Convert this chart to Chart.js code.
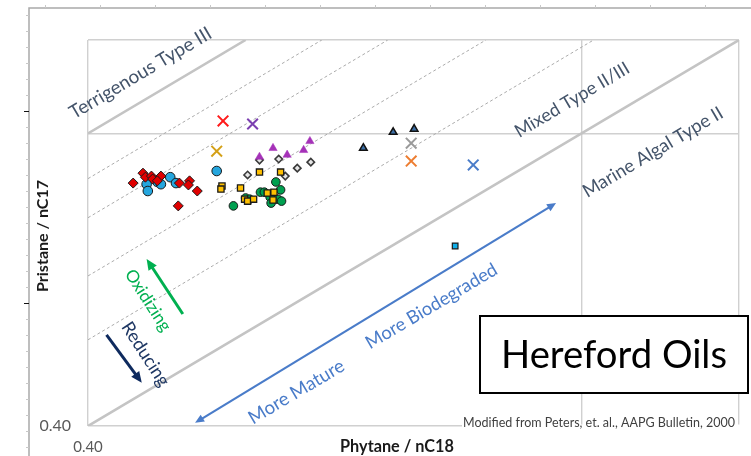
<!DOCTYPE html>
<html>
<head>
<meta charset="utf-8">
<script src="https://cdn.jsdelivr.net/npm/chart.js@4.4.1/dist/chart.umd.min.js"></script>
<style>
  html, body { margin: 0; padding: 0; background: #ffffff; }
  canvas { display: block; }
</style>
</head>
<body>
<canvas id="chart" width="751" height="456"></canvas>
<script>
// Shared range of both logarithmic axes
const axisMin = 0.4;
const axisMax = 1.34;
const gridValue = 1.0;

// Kerogen-type boundaries: Pr/nC17 = ratio x Ph/nC18
const typeLineRatios = [2.5, 1.0];
// Intermediate guide lines between the boundaries
const guideLineRatios = [2.17, 1.92, 1.6, 1.31];

// Oil samples — x: Phytane/nC18, y: Pristane/nC17
const redDiamondX = [0.435, 0.443, 0.445, 0.450, 0.451, 0.458, 0.455, 0.474, 0.483, 0.482, 0.490, 0.473];
const redDiamondY = [0.856, 0.883, 0.872, 0.875, 0.867, 0.875, 0.862, 0.856, 0.862, 0.851, 0.835, 0.797];

const blueCircleX = [0.446, 0.447, 0.455, 0.458, 0.466, 0.471, 0.508];
const blueCircleY = [0.853, 0.835, 0.859, 0.853, 0.872, 0.856, 0.889];

const yellowSquareX = [0.513, 0.512, 0.531, 0.550, 0.572, 0.565, 0.558, 0.535, 0.538, 0.544, 0.564];
const yellowSquareY = [0.848, 0.840, 0.843, 0.886, 0.886, 0.832, 0.830, 0.814, 0.809, 0.814, 0.812];

const greenCircleX = [0.567, 0.572, 0.551, 0.555, 0.536, 0.524, 0.561, 0.569, 0.573, 0.562, 0.540];
const greenCircleY = [0.859, 0.838, 0.832, 0.832, 0.817, 0.797, 0.819, 0.814, 0.809, 0.804, 0.814];

const grayDiamondX = [0.550, 0.570, 0.538, 0.577, 0.590, 0.605];
const grayDiamondY = [0.920, 0.923, 0.878, 0.875, 0.897, 0.914];

const purpleTriangleX = [0.550, 0.564, 0.579, 0.597, 0.604];
const purpleTriangleY = [0.929, 0.955, 0.935, 0.949, 0.976];

const darkTriangleX = [0.667, 0.705, 0.733];
const darkTriangleY = [0.955, 1.004, 1.014];

const blueSquareX = [0.791];
const blueSquareY = [0.703];

// Single reference oils plotted as crosses
const crossX = [0.514, 0.543, 0.508, 0.729, 0.729, 0.818];
const crossY = [1.040, 1.030, 0.946, 0.970, 0.917, 0.906];
const crossColors = ['#ff1a1a', '#7b3fb0', '#d4a017', '#9a9a9a', '#ed7d31', '#4a7cc9'];

const FONT = 'Lato, "Open Sans", "Noto Sans", sans-serif';

const pts = (xs, ys) => xs.map((v, i) => ({ x: v, y: ys[i] }));
const ratioLine = r => [{ x: axisMin, y: axisMin * r }, { x: axisMax / r, y: axisMax }];

const datasets = [];
datasets.push({ data: pts(redDiamondX, redDiamondY), pointStyle: 'rectRot', pointRadius: 5,
  backgroundColor: '#e00000', borderColor: '#1a1a1a', borderWidth: 1, order: 1 });
datasets.push({ data: pts(blueCircleX, blueCircleY), pointStyle: 'circle', pointRadius: 4.8,
  backgroundColor: '#25a6de', borderColor: '#1a1a1a', borderWidth: 1, order: 2 });
datasets.push({ data: pts(greenCircleX, greenCircleY), pointStyle: 'circle', pointRadius: 4.3,
  backgroundColor: '#00a050', borderColor: '#1a1a1a', borderWidth: 1, order: 2 });
datasets.push({ data: pts(yellowSquareX, yellowSquareY), pointStyle: 'rect', pointRadius: 4.4,
  backgroundColor: '#ffc000', borderColor: '#1a1a1a', borderWidth: 1.3, order: 1 });
datasets.push({ data: pts(grayDiamondX, grayDiamondY), pointStyle: 'rectRot', pointRadius: 3.7,
  backgroundColor: '#e6e6e6', borderColor: '#3a3a3a', borderWidth: 1.6, order: 2 });
datasets.push({ data: pts(purpleTriangleX, purpleTriangleY), pointStyle: 'triangle', pointRadius: 4.8,
  backgroundColor: '#a531b8', borderColor: '#a531b8', borderWidth: 0.5, order: 1 });
datasets.push({ data: pts(darkTriangleX, darkTriangleY), pointStyle: 'triangle', pointRadius: 4.4,
  backgroundColor: '#3b6ea5', borderColor: '#111111', borderWidth: 1.5, order: 1 });
datasets.push({ data: pts(blueSquareX, blueSquareY), pointStyle: 'rect', pointRadius: 4,
  backgroundColor: '#10aee8', borderColor: '#1a1a1a', borderWidth: 1.2, order: 1 });
crossX.forEach((v, i) => datasets.push({ data: [{ x: v, y: crossY[i] }], pointStyle: 'crossRot',
  pointRadius: 7.5, borderColor: crossColors[i], borderWidth: 2, backgroundColor: crossColors[i], order: 1 }));

typeLineRatios.forEach(r => datasets.push({ data: ratioLine(r), showLine: true, pointRadius: 0,
  borderColor: '#c4c4c4', borderWidth: 2.6, order: 10 }));
guideLineRatios.forEach(r => datasets.push({ data: ratioLine(r), showLine: true, pointRadius: 0,
  borderColor: '#ababab', borderWidth: 1, borderDash: [3, 2.5], order: 11 }));

// Text and arrows placed in data coordinates
const regionLabels = [
  { text: 'Terrigenous Type III', x: 0.441, y: 1.208, width: 162 },
  { text: 'Mixed Type II/III', x: 0.983, y: 1.111, width: 130 },
  { text: 'Marine Algal Type II', x: 1.142, y: 0.943, width: 160 }
];
const trendLabels = [
  { text: 'More Mature', x: 0.589, y: 0.445, width: 108 },
  { text: 'More Biodegraded', x: 0.757, y: 0.582, width: 150 }
];
const redoxLabels = [
  { text: 'Oxidizing', x: 0.447, y: 0.593, width: 70, color: '#00b050' },
  { text: 'Reducing', x: 0.445, y: 0.501, width: 73, color: '#1f3864' }
];
const arrows = [
  { from: [0.477, 0.568], to: [0.446, 0.675], color: '#00b050', width: 3, head: 11, both: false },
  { from: [0.414, 0.532], to: [0.442, 0.458], color: '#0e2a5e', width: 3, head: 11, both: false },
  { from: [0.954, 0.804], to: [0.488, 0.404], color: '#4a7cc9', width: 2.2, head: 9, both: true }
];

function fitFont(ctx, text, width, weight) {
  ctx.font = `${weight} 100px ${FONT}`;
  const w = ctx.measureText(text).width;
  return `${weight} ${(100 * width / w).toFixed(2)}px ${FONT}`;
}
function drawText(ctx, text, cx, cy, angle, width, color, weight) {
  ctx.save();
  ctx.translate(cx, cy);
  ctx.rotate(angle);
  ctx.font = fitFont(ctx, text, width, weight || 'normal');
  ctx.fillStyle = color;
  ctx.textAlign = 'center';
  ctx.textBaseline = 'middle';
  ctx.fillText(text, 0, 0);
  ctx.restore();
}
function head(ctx, x1, y1, x2, y2, size) {
  const a = Math.atan2(y2 - y1, x2 - x1);
  ctx.beginPath();
  ctx.moveTo(x2, y2);
  ctx.lineTo(x2 - size * Math.cos(a) + size * 0.45 * Math.sin(a), y2 - size * Math.sin(a) - size * 0.45 * Math.cos(a));
  ctx.lineTo(x2 - size * Math.cos(a) - size * 0.45 * Math.sin(a), y2 - size * Math.sin(a) + size * 0.45 * Math.cos(a));
  ctx.closePath();
  ctx.fill();
}
function drawArrow(ctx, x1, y1, x2, y2, color, lw, size, both) {
  const a = Math.atan2(y2 - y1, x2 - x1);
  const sx = both ? x1 + Math.cos(a) * size * 0.8 : x1;
  const sy = both ? y1 + Math.sin(a) * size * 0.8 : y1;
  ctx.save();
  ctx.strokeStyle = color; ctx.fillStyle = color; ctx.lineWidth = lw;
  ctx.beginPath();
  ctx.moveTo(sx, sy);
  ctx.lineTo(x2 - Math.cos(a) * size * 0.8, y2 - Math.sin(a) * size * 0.8);
  ctx.stroke();
  head(ctx, x1, y1, x2, y2, size);
  if (both) head(ctx, x2, y2, x1, y1, size);
  ctx.restore();
}

const decor = {
  id: 'decor',
  afterDraw(chart) {
    const { ctx, chartArea: ca, scales: { x, y } } = chart;
    const px = v => x.getPixelForValue(v);
    const py = v => y.getPixelForValue(v);
    const slope = Math.atan2(py(axisMax) - py(axisMin), px(axisMax) - px(axisMin));

    // outer frame with its tick marks
    ctx.save();
    ctx.strokeStyle = '#a9a9a9';
    ctx.lineWidth = 1.5;
    ctx.beginPath();
    ctx.moveTo(29, chart.height); ctx.lineTo(29, 8); ctx.lineTo(chart.width, 8);
    ctx.stroke();
    ctx.lineWidth = 1;
    for (let t = 15; t < chart.height; t += 16) {
      const major = (t === 111 || t === 303);
      ctx.strokeStyle = major ? '#111111' : '#c8c8c8';
      ctx.beginPath();
      ctx.moveTo(major ? 24 : 26, t + 0.5); ctx.lineTo(29, t + 0.5);
      ctx.stroke();
    }
    ctx.strokeStyle = '#c8c8c8';
    for (let t = 45; t < chart.width; t += 55) {
      ctx.beginPath();
      ctx.moveTo(t + 0.5, 5); ctx.lineTo(t + 0.5, 8);
      ctx.stroke();
    }
    ctx.restore();

    regionLabels.forEach(l => drawText(ctx, l.text, px(l.x), py(l.y), slope, l.width, '#44546a'));
    trendLabels.forEach(l => drawText(ctx, l.text, px(l.x), py(l.y), slope, l.width, '#4a7cc9'));
    redoxLabels.forEach(l => drawText(ctx, l.text, px(l.x), py(l.y), 57 * Math.PI / 180, l.width, l.color));
    arrows.forEach(a => drawArrow(ctx, px(a.from[0]), py(a.from[1]), px(a.to[0]), py(a.to[1]), a.color, a.width, a.head, a.both));

    // axis titles
    drawText(ctx, 'Phytane / nC18', 397, 447, 0, 114, '#1a1a1a', 'bold');
    drawText(ctx, 'Pristane / nC17', 43, 236, -Math.PI / 2, 112, '#1a1a1a', 'bold');

    // source note
    ctx.save();
    ctx.fillStyle = '#ffffff';
    ctx.fillRect(462, ca.bottom - 1.5, ca.right - 462 + 2, 3.5);
    ctx.restore();
    drawText(ctx, 'Modified from Peters, et. al., AAPG Bulletin, 2000', 599, 423, 0, 272, '#404040');

    // title box
    ctx.save();
    ctx.fillStyle = '#ffffff';
    ctx.fillRect(480, 316, 268, 77);
    ctx.strokeStyle = '#000000';
    ctx.lineWidth = 2;
    ctx.strokeRect(480, 316, 268, 77);
    ctx.restore();
    drawText(ctx, 'Hereford Oils', 614, 356, 0, 226, '#000000');
  }
};

const axisTicks = [axisMin, gridValue, axisMax];
function logAxis(extra) {
  return Object.assign({
    type: 'logarithmic',
    min: axisMin,
    max: axisMax,
    afterBuildTicks: s => { s.ticks = axisTicks.map(v => ({ value: v })); },
    grid: { color: '#d0d0d0', lineWidth: 1.4, drawTicks: false },
    border: { display: false }
  }, extra);
}

new Chart(document.getElementById('chart'), {
  type: 'scatter',
  data: { datasets },
  options: {
    responsive: false,
    animation: false,
    events: [],
    layout: { padding: { left: 0, right: 11, top: 40, bottom: 0 } },
    plugins: { legend: { display: false }, tooltip: { enabled: false } },
    scales: {
      x: logAxis({
        position: 'bottom',
        afterFit: s => { s.height = 30; },
        ticks: { autoSkip: false, maxRotation: 0, padding: 12, color: '#595959',
          font: { family: FONT, size: 15 },
          callback: v => (v === axisMin ? axisMin.toFixed(2) : '') }
      }),
      y: logAxis({
        position: 'left',
        afterFit: s => { s.width = 88; },
        ticks: { autoSkip: false, padding: 17, color: '#595959',
          font: { family: FONT, size: 16 },
          callback: v => (v === axisMin ? axisMin.toFixed(2) : '') }
      })
    }
  },
  plugins: [decor]
});
</script>
</body>
</html>
